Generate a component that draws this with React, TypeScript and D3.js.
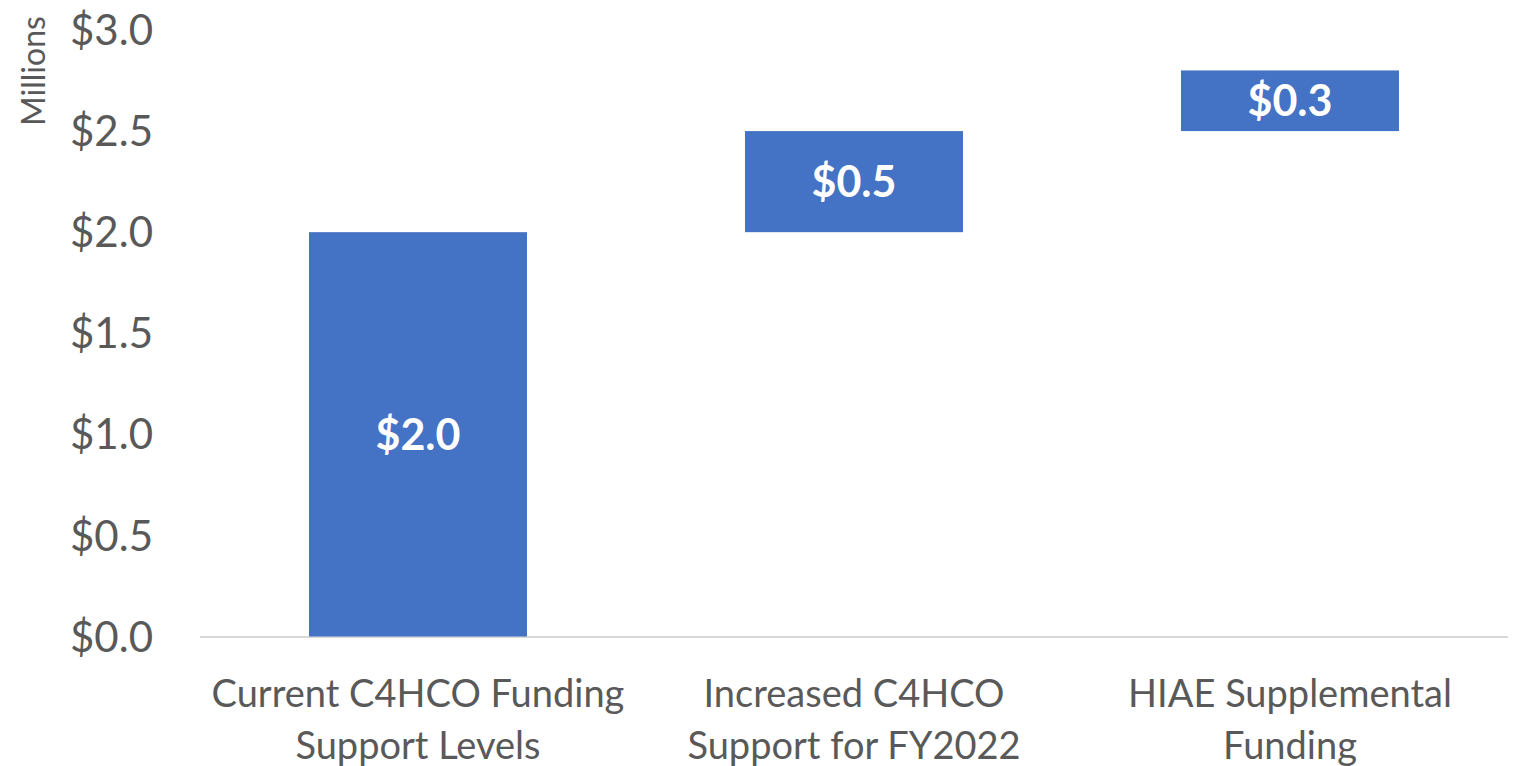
import React, { useRef, useEffect } from "react";
import * as d3 from "d3";

// chart data
const categories = [
  ["Current C4HCO Funding", "Support Levels"],
  ["Increased C4HCO", "Support for FY2022"],
  ["HIAE Supplemental", "Funding"],
];
const increments = [2.0, 0.5, 0.3];
const yTicks = [0, 0.5, 1, 1.5, 2, 2.5, 3];

const App = () => {
  const svgRef = useRef<SVGSVGElement>(null);

  useEffect(() => {
    const width = 1519;
    const height = 766;
    const margin = { top: 30, right: 11, bottom: 129, left: 200 };

    const svg = d3.select(svgRef.current);
    svg.selectAll("*").remove();
    svg.attr("width", width).attr("height", height);

    const font = "Lato, 'Open Sans', sans-serif";
    const grey = "#595959";

    const x = d3
      .scaleBand()
      .domain(categories.map((_, i) => String(i)))
      .range([margin.left, width - margin.right])
      .paddingInner(0.5)
      .paddingOuter(0.25);

    const y = d3
      .scaleLinear()
      .domain([0, 3])
      .range([height - margin.bottom - 0.5, margin.top]);

    // waterfall steps
    let running = 0;
    const steps = increments.map((v, i) => {
      const start = running;
      running += v;
      return { key: String(i), start, end: running, value: v };
    });

    // axis line
    svg
      .append("line")
      .attr("x1", margin.left)
      .attr("x2", width - margin.right)
      .attr("y1", y(0) + 0.5)
      .attr("y2", y(0) + 0.5)
      .attr("stroke", "#d9d9d9")
      .attr("stroke-width", 2);

    // y tick labels
    svg
      .append("g")
      .selectAll("text")
      .data(yTicks)
      .join("text")
      .attr("x", 153)
      .attr("y", (d) => y(d))
      .attr("dy", "0.36em")
      .attr("text-anchor", "end")
      .attr("fill", grey)
      .style("font", `42px ${font}`)
      .text((d) => `$${d.toFixed(1)}`);

    // unit label
    svg
      .append("text")
      .attr("transform", "translate(33,71) rotate(-90)")
      .attr("text-anchor", "middle")
      .attr("dy", "0.36em")
      .attr("fill", grey)
      .style("font", `32px ${font}`)
      .text("Millions");

    // bars
    svg
      .append("g")
      .selectAll("rect")
      .data(steps)
      .join("rect")
      .attr("x", (d) => x(d.key)!)
      .attr("width", x.bandwidth())
      .attr("y", (d) => y(d.end))
      .attr("height", (d) => y(d.start) - y(d.end))
      .attr("fill", "#4472c4");

    // bar labels
    svg
      .append("g")
      .selectAll("text")
      .data(steps)
      .join("text")
      .attr("x", (d) => x(d.key)! + x.bandwidth() / 2)
      .attr("y", (d) => (y(d.start) + y(d.end)) / 2)
      .attr("dy", "0.36em")
      .attr("text-anchor", "middle")
      .attr("fill", "white")
      .style("font", `bold 43px ${font}`)
      .text((d) => `$${d.value.toFixed(1)}`);

    // category labels
    const cat = svg
      .append("g")
      .selectAll("text")
      .data(categories)
      .join("text")
      .attr("x", (_, i) => x(String(i))! + x.bandwidth() / 2)
      .attr("text-anchor", "middle")
      .attr("fill", grey)
      .style("font", `38px ${font}`);
    cat
      .selectAll("tspan")
      .data((d) => d)
      .join("tspan")
      .attr("x", function () {
        return (this.parentNode as SVGTextElement).getAttribute("x");
      })
      .attr("y", (_, j) => 707 + j * 52)
      .text((d) => d);
  }, []);

  return <svg ref={svgRef} style={{ display: "block", position: "absolute", left: 0, top: 0 }}></svg>;
};

export default App;
